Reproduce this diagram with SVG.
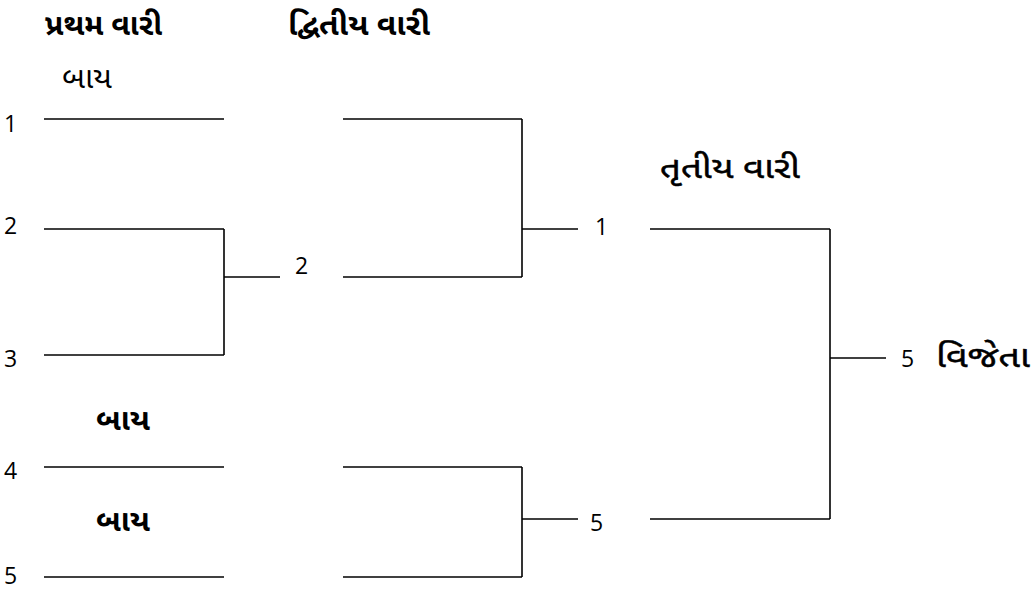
<svg xmlns="http://www.w3.org/2000/svg" width="1035" height="590" viewBox="0 0 1035 590">
  <style>
    .ln { stroke: #000; stroke-width: 1.6; fill: none; }
    .num { font-family: "Open Sans", "Liberation Sans", sans-serif; font-size: 23px; fill: #000; }
    .gu { font-family: "Noto Sans Gujarati", "Lohit Gujarati", "Noto Sans", sans-serif; font-size: 30px; fill: #000; }
    .b { font-weight: bold; }
    .m { font-weight: normal; stroke: #000; stroke-width: 0.5; }
  </style>
  <rect width="1035" height="590" fill="#fff"/>

  <!-- round headings -->
  <g id="headings">
    <text class="gu b" x="45" y="35" textLength="117" lengthAdjust="spacingAndGlyphs">પ્રથમ વારી</text>
    <text class="gu b" x="288" y="35" textLength="142" lengthAdjust="spacingAndGlyphs">દ્વિતીય વારી</text>
    <text class="gu m" x="660" y="178" textLength="140" lengthAdjust="spacingAndGlyphs">તૃતીય વારી</text>
  </g>

  <!-- bracket lines -->
  <g id="connectors">
    <!-- first round slots -->
    <line class="ln" x1="44" y1="119" x2="224" y2="119"/>
    <line class="ln" x1="44" y1="229" x2="224" y2="229"/>
    <line class="ln" x1="44" y1="355" x2="224" y2="355"/>
    <line class="ln" x1="44" y1="467" x2="224" y2="467"/>
    <line class="ln" x1="44" y1="577" x2="224" y2="577"/>
    <!-- match 2 v 3 -->
    <line class="ln" x1="224" y1="229" x2="224" y2="355"/>
    <line class="ln" x1="224" y1="277" x2="280" y2="277"/>
    <!-- second round -->
    <line class="ln" x1="343" y1="119" x2="522" y2="119"/>
    <line class="ln" x1="343" y1="277" x2="522" y2="277"/>
    <line class="ln" x1="522" y1="119" x2="522" y2="277"/>
    <line class="ln" x1="522" y1="229" x2="578" y2="229"/>
    <line class="ln" x1="343" y1="467" x2="522" y2="467"/>
    <line class="ln" x1="343" y1="577" x2="522" y2="577"/>
    <line class="ln" x1="522" y1="467" x2="522" y2="577"/>
    <line class="ln" x1="522" y1="519" x2="578" y2="519"/>
    <!-- third round -->
    <line class="ln" x1="650" y1="229" x2="830" y2="229"/>
    <line class="ln" x1="650" y1="519" x2="830" y2="519"/>
    <line class="ln" x1="830" y1="229" x2="830" y2="519"/>
    <line class="ln" x1="830" y1="358" x2="886" y2="358"/>
  </g>

  <!-- entrant numbers -->
  <g id="seeds">
    <text class="num" x="4" y="132">1</text>
    <text class="num" x="4" y="234">2</text>
    <text class="num" x="4" y="367">3</text>
    <text class="num" x="4" y="479">4</text>
    <text class="num" x="4" y="584">5</text>
  </g>

  <!-- byes -->
  <g id="byes">
    <text class="gu" x="62" y="88" font-size="27" textLength="50" lengthAdjust="spacingAndGlyphs">બાય</text>
    <text class="gu b" x="96" y="430" font-size="28" textLength="54" lengthAdjust="spacingAndGlyphs">બાય</text>
    <text class="gu b" x="96" y="531" font-size="28" textLength="54" lengthAdjust="spacingAndGlyphs">બાય</text>
  </g>

  <!-- match results -->
  <g id="results">
    <text class="num" x="295" y="274">2</text>
    <text class="num" x="595" y="235">1</text>
    <text class="num" x="590" y="531">5</text>
    <text class="num" x="901" y="367">5</text>
    <text class="gu m" x="936" y="367" textLength="94" lengthAdjust="spacingAndGlyphs">વિજેતા</text>
  </g>
</svg>
